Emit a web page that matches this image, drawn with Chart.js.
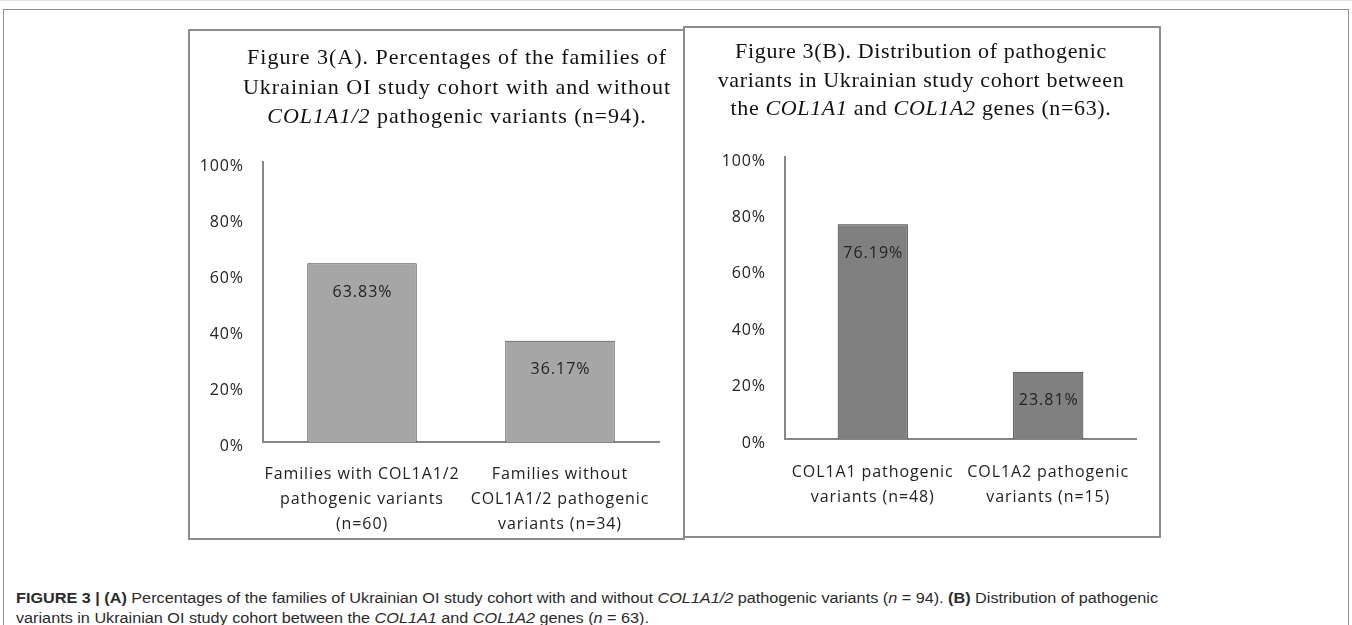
<!DOCTYPE html>
<html>
<head>
<meta charset="utf-8">
<script src="https://cdn.jsdelivr.net/npm/chart.js@4.4.1/dist/chart.umd.min.js"></script>
<style>
  html, body { margin:0; padding:0; background:#fff; }
  body { width:1352px; height:625px; position:relative; overflow:hidden; }
  .frame { position:absolute; left:3px; top:9px; width:1346px; height:700px; border:1px solid #8f8f8f; box-sizing:border-box; }
  .topline { position:absolute; left:0; top:0; width:1352px; height:1px; background:#e2e2e2; }
  .panel { position:absolute; border:2px solid #8c8c8c; box-sizing:border-box; }
  canvas { position:absolute; }
  .title { position:absolute; font-family:"Liberation Serif","Times New Roman",serif; font-size:22px; color:#111; text-align:center; white-space:nowrap; }
  .caption { position:absolute; left:16px; top:588px; font-family:"Liberation Sans",Arial,sans-serif; font-size:14px; line-height:20px; color:#2a2a2a; white-space:nowrap; transform-origin:0 0; }
</style>
</head>
<body>
<div class="topline"></div>
<div class="frame"></div>

<div class="panel" style="left:188px;top:29px;width:497px;height:511px;"></div>
<div class="panel" style="left:683px;top:26px;width:478px;height:512px;"></div>

<canvas id="chartA" width="494" height="509" style="left:189px;top:30px;"></canvas>
<canvas id="chartB" width="476" height="510" style="left:684px;top:27px;"></canvas>

<div class="title" style="left:210px;top:42px;width:494px;line-height:29.5px;letter-spacing:1px;">
Figure 3(A). Percentages of the families of<br>
Ukrainian OI study cohort with and without<br>
<i>COL1A1/2</i> pathogenic variants (n=94).
</div>
<div class="title" style="left:683px;top:37px;width:476px;line-height:28.5px;letter-spacing:0.65px;">
Figure 3(B). Distribution of pathogenic<br>
variants in Ukrainian study cohort between<br>
the <i>COL1A1</i> and <i>COL1A2</i> genes (n=63).
</div>

<div class="caption" id="caption"><b>FIGURE 3 | (A)</b> Percentages of the families of Ukrainian OI study cohort with and without <i>COL1A1/2</i> pathogenic variants (<i>n</i> = 94). <b>(B)</b> Distribution of pathogenic<br>variants in Ukrainian OI study cohort between the <i>COL1A1</i> and <i>COL1A2</i> genes (<i>n</i> = 63).</div>

<script>
// ---- data ----
const categoriesA = [
  ["Families with COL1A1/2", "pathogenic variants", "(n=60)"],
  ["Families without", "COL1A1/2 pathogenic", "variants (n=34)"]
];
const valuesA = [63.83, 36.17];

const categoriesB = [
  ["COL1A1 pathogenic", "variants (n=48)"],
  ["COL1A2 pathogenic", "variants (n=15)"]
];
const valuesB = [76.19, 23.81];

const yMin = 0;
const yMax = 100;
const yStep = 20;
const tickSuffix = "%";

// ---- plugin: letter spacing for canvas text ----
const spacing = {
  id: 'spacing',
  beforeDraw(chart) { chart.ctx.letterSpacing = '0.9px'; }
};

// ---- plugin for value labels inside bars ----
const valueLabels = {
  id: 'valueLabels',
  afterDatasetsDraw(chart) {
    const ctx = chart.ctx;
    const meta = chart.getDatasetMeta(0);
    const vals = chart.data.datasets[0].data;
    ctx.save();
    ctx.letterSpacing = '1px';
    ctx.font = '16px "Open Sans", sans-serif';
    ctx.fillStyle = '#222';
    ctx.textAlign = 'center';
    ctx.textBaseline = 'middle';
    meta.data.forEach((bar, i) => {
      ctx.fillText(vals[i].toFixed(2) + '%', bar.x + 0.5, bar.y + 29);
    });
    ctx.restore();
  }
};

function makeChart(id, labels, values, cfg) {
  return new Chart(document.getElementById(id), {
    type: 'bar',
    data: {
      labels: labels,
      datasets: [{
        data: values,
        backgroundColor: cfg.fill,
        borderColor: cfg.stroke,
        borderWidth: 1,
        borderSkipped: 'bottom',
        barPercentage: cfg.barPct,
        categoryPercentage: 1.0
      }]
    },
    options: {
      responsive: false,
      animation: false,
      devicePixelRatio: 1,
      layout: { padding: { left: 0, top: cfg.padTop, right: cfg.padRight, bottom: 0 } },
      plugins: { legend: { display: false }, tooltip: { enabled: false } },
      scales: {
        x: {
          grid: { display: false, drawTicks: false },
          border: { display: true, color: '#868686', width: 2 },
          ticks: {
            color: '#222',
            font: { family: '"Open Sans", sans-serif', size: 16, lineHeight: 25 / 16 },
            padding: cfg.xPad,
            maxRotation: 0, minRotation: 0, autoSkip: false
          },
          afterFit(scale) { scale.height = cfg.xHeight; }
        },
        y: {
          min: yMin, max: yMax,
          grid: { display: false, drawTicks: false },
          border: { display: true, color: '#868686', width: 2 },
          ticks: {
            stepSize: yStep,
            color: '#222',
            font: { family: '"Open Sans", sans-serif', size: 16 },
            padding: 19,
            labelOffset: 4,
            callback: v => v + tickSuffix
          },
          afterFit(scale) { scale.width = cfg.yWidth; }
        }
      }
    },
    plugins: [spacing, valueLabels]
  });
}

makeChart('chartA', categoriesA, valuesA, {
  fill: '#a6a6a6', stroke: '#3f3f3f', barPct: 0.553,
  padTop: 132, padRight: 24, xHeight: 97, yWidth: 74, xPad: 20
});
makeChart('chartB', categoriesB, valuesB, {
  fill: '#808080', stroke: '#2e2e2e', barPct: 0.4,
  padTop: 130, padRight: 24, xHeight: 98, yWidth: 101, xPad: 21
});

// fit caption first line to the reference width
(function () {
  const cap = document.getElementById('caption');
  const target = 1142;
  const w = cap.getBoundingClientRect().width;
  if (w > 0) cap.style.transform = 'scaleX(' + (target / w) + ')';
})();
</script>
</body>
</html>
